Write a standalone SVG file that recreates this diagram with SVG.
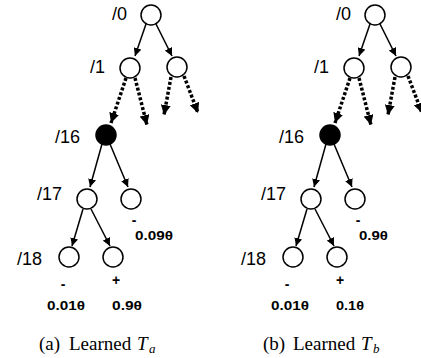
<svg xmlns="http://www.w3.org/2000/svg" width="421" height="358" viewBox="0 0 421 358">
<defs>
<marker id="ah" viewBox="0 0 10 10" refX="10" refY="5" markerWidth="8" markerHeight="8" markerUnits="userSpaceOnUse" orient="auto">
<path d="M0,0 L10,5 L0,10 z" fill="#000"/>
</marker>
<marker id="ahd" viewBox="0 0 10 10" refX="10" refY="5" markerWidth="10" markerHeight="10" markerUnits="userSpaceOnUse" orient="auto">
<path d="M0,0 L10,5 L0,10 z" fill="#000"/>
</marker>
</defs>
<style>
.n{fill:#fff;stroke:#000;stroke-width:1.5}
.f{fill:#000;stroke:#000;stroke-width:1.5}
.s{stroke:#000;stroke-width:1.5;fill:none;marker-end:url(#ah)}
.d{stroke:#000;stroke-width:3.5;stroke-dasharray:3 2;fill:none;marker-end:url(#ahd)}
.lb{font-family:"Liberation Sans",Arial,sans-serif;font-size:18px;text-anchor:end;fill:#000}
.v{font-family:"Liberation Sans",Arial,sans-serif;font-size:12.5px;font-weight:bold;fill:#000}
.sg{font-family:"Liberation Sans",Arial,sans-serif;font-size:14px;font-weight:bold;text-anchor:middle;fill:#000}
.cap{font-family:"Liberation Serif","Times New Roman",serif;font-size:19px;fill:#000}
.it{font-style:italic}
.sub{font-style:italic;font-size:13px}
</style>
<g id="connectors">
<line class="s" x1="146" y1="24" x2="135" y2="56"/>
<line class="s" x1="156" y1="24" x2="172" y2="56"/>
<line class="d" x1="126" y1="78" x2="111" y2="123"/>
<line class="d" x1="135" y1="78" x2="147" y2="125"/>
<line class="d" x1="171" y1="77" x2="164" y2="115"/>
<line class="d" x1="184" y1="76" x2="198" y2="113"/>
<line class="s" x1="102" y1="144" x2="90" y2="187"/>
<line class="s" x1="110" y1="144" x2="128" y2="187"/>
<line class="s" x1="83" y1="209" x2="72" y2="246"/>
<line class="s" x1="91" y1="209" x2="110" y2="246"/>
<g transform="translate(224,0)">
<line class="s" x1="146" y1="24" x2="135" y2="56"/>
<line class="s" x1="156" y1="24" x2="172" y2="56"/>
<line class="d" x1="126" y1="78" x2="111" y2="123"/>
<line class="d" x1="135" y1="78" x2="147" y2="125"/>
<line class="d" x1="171" y1="77" x2="164" y2="115"/>
<line class="d" x1="184" y1="76" x2="198" y2="113"/>
<line class="s" x1="102" y1="144" x2="90" y2="187"/>
<line class="s" x1="110" y1="144" x2="128" y2="187"/>
<line class="s" x1="83" y1="209" x2="72" y2="246"/>
<line class="s" x1="91" y1="209" x2="110" y2="246"/>
</g>
</g>
<g id="a-n0"><circle class="n" cx="151" cy="15" r="10"/><text class="lb" x="127" y="20">/0</text></g>
<g id="a-n1"><circle class="n" cx="130" cy="68" r="10"/><text class="lb" x="105" y="73">/1</text></g>
<g id="a-n1r"><circle class="n" cx="177" cy="67" r="10"/></g>
<g id="a-n16"><circle class="f" cx="106" cy="135" r="10"/><text class="lb" x="80" y="143">/16</text></g>
<g id="a-n17"><circle class="n" cx="87" cy="199" r="10"/><text class="lb" x="62" y="200">/17</text></g>
<g id="a-n17r"><circle class="n" cx="131" cy="199" r="10"/><text class="sg" x="134" y="225">-</text><text class="v" x="135" y="240" textLength="38" lengthAdjust="spacingAndGlyphs">0.09θ</text></g>
<g id="a-n18a"><circle class="n" cx="69" cy="257" r="10"/><text class="lb" x="42" y="265">/18</text><text class="sg" x="63" y="289">-</text><text class="v" x="47" y="310" textLength="38" lengthAdjust="spacingAndGlyphs">0.01θ</text></g>
<g id="a-n18b"><circle class="n" cx="113" cy="257" r="10"/><text class="sg" x="116" y="285">+</text><text class="v" x="112" y="310" textLength="30" lengthAdjust="spacingAndGlyphs">0.9θ</text></g>
<g id="b-n0"><circle class="n" cx="375" cy="15" r="10"/><text class="lb" x="351" y="20">/0</text></g>
<g id="b-n1"><circle class="n" cx="354" cy="68" r="10"/><text class="lb" x="329" y="73">/1</text></g>
<g id="b-n1r"><circle class="n" cx="401" cy="67" r="10"/></g>
<g id="b-n16"><circle class="f" cx="330" cy="135" r="10"/><text class="lb" x="304" y="143">/16</text></g>
<g id="b-n17"><circle class="n" cx="311" cy="199" r="10"/><text class="lb" x="286" y="200">/17</text></g>
<g id="b-n17r"><circle class="n" cx="355" cy="199" r="10"/><text class="sg" x="358" y="225">-</text><text class="v" x="359" y="240" textLength="29" lengthAdjust="spacingAndGlyphs">0.9θ</text></g>
<g id="b-n18a"><circle class="n" cx="293" cy="257" r="10"/><text class="lb" x="266" y="265">/18</text><text class="sg" x="287" y="289">-</text><text class="v" x="271" y="310" textLength="38" lengthAdjust="spacingAndGlyphs">0.01θ</text></g>
<g id="b-n18b"><circle class="n" cx="337" cy="257" r="10"/><text class="sg" x="340" y="285">+</text><text class="v" x="336" y="310" textLength="28" lengthAdjust="spacingAndGlyphs">0.1θ</text></g>
<text class="cap" y="350"><tspan x="39">(a)</tspan><tspan x="69">Learned</tspan><tspan class="it" x="137">T</tspan><tspan class="sub" x="149" y="353">a</tspan></text>
<text class="cap" y="350"><tspan x="263">(b)</tspan><tspan x="293">Learned</tspan><tspan class="it" x="361">T</tspan><tspan class="sub" x="373" y="353">b</tspan></text>
</svg>
